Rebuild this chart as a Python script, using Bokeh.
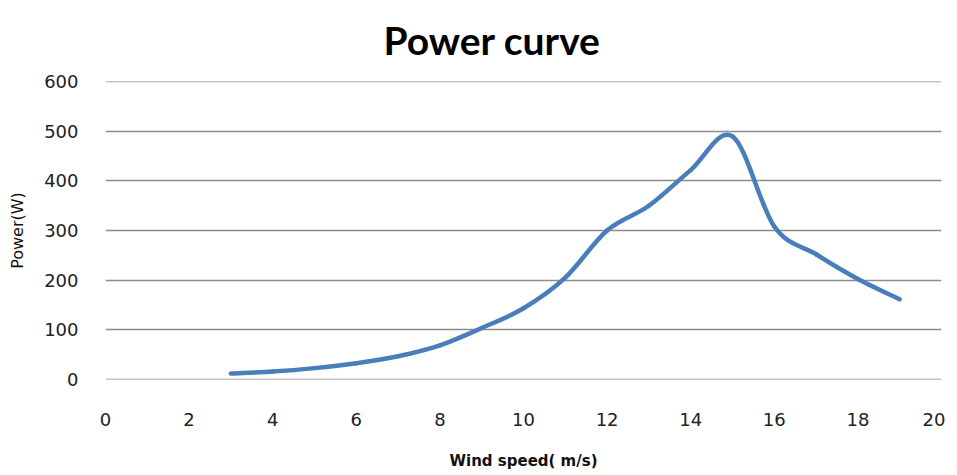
from bokeh.plotting import figure
from bokeh.models import Range1d, FixedTicker
from bokeh.embed import file_html
from bokeh.resources import INLINE

chart_title = "Power curve"
wind_speed = [3, 4, 5, 6, 7, 8, 9, 10, 11, 12, 13, 14, 15, 16, 17, 18, 19]
power_w = [11, 15, 22, 32, 46, 68, 103, 143, 205, 300, 350, 422, 490, 308, 252, 202, 161]
x_ticks = [0, 2, 4, 6, 8, 10, 12, 14, 16, 18, 20]
y_ticks = [0, 100, 200, 300, 400, 500, 600]

# smooth (Excel-like) Bezier segments derived from the data points
n = len(wind_speed)
x0, y0, x1, y1, cx0, cy0, cx1, cy1 = [], [], [], [], [], [], [], []
for i in range(n - 1):
    xa, ya = wind_speed[i], power_w[i]
    xb, yb = wind_speed[i + 1], power_w[i + 1]
    xp, yp = (wind_speed[i - 1], power_w[i - 1]) if i > 0 else (xa, ya)
    xn, yn = (wind_speed[i + 2], power_w[i + 2]) if i + 2 < n else (xb, yb)
    x0.append(xa); y0.append(ya); x1.append(xb); y1.append(yb)
    cx0.append(xa + (xb - xp) / 6.0); cy0.append(ya + (yb - yp) / 6.0)
    cx1.append(xb - (xn - xa) / 6.0); cy1.append(yb - (yn - ya) / 6.0)

p = figure(width=945, height=472, output_backend="svg", toolbar_location=None,
           x_range=Range1d(0, 20), y_range=Range1d(-1, 601),
           min_border_left=105, min_border_right=4, min_border_top=81, min_border_bottom=89)

p.title.text = chart_title
p.title.text_font = "Lato"
p.title.text_font_size = "39px"
p.title.text_font_style = "bold"
p.title.text_color = "#000000"
p.title.align = "left"
p.title.offset = 278
p.title.vertical_align = "top"
p.title.standoff = 33

p.outline_line_color = None
p.background_fill_color = "white"
p.border_fill_color = "white"

p.xgrid.visible = False
p.ygrid.grid_line_color = "#8c8c8c"
p.ygrid.grid_line_width = 1.5

for ax in (p.xaxis, p.yaxis):
    ax.axis_line_color = None
    ax.major_tick_line_color = None
    ax.minor_tick_line_color = None
    ax.major_label_text_font = "DejaVu Sans"
    ax.major_label_text_font_size = "18px"
    ax.major_label_text_color = "#222222"
    ax.axis_label_text_font = "DejaVu Sans"
    ax.axis_label_text_color = "#111111"
    ax.axis_label_text_font_style = "normal"

p.xaxis.ticker = FixedTicker(ticks=x_ticks)
p.yaxis.ticker = FixedTicker(ticks=y_ticks)
p.xaxis.major_label_standoff = 27
p.yaxis.major_label_standoff = 21

p.xaxis.axis_label = "Wind speed( m/s)"
p.xaxis.axis_label_text_font_size = "15px"
p.xaxis.axis_label_text_font_style = "bold"
p.xaxis.axis_label_standoff = 23
p.yaxis.axis_label = "Power(W)"
p.yaxis.axis_label_text_font_size = "16px"
p.yaxis.axis_label_standoff = 14

p.bezier(x0=x0, y0=y0, x1=x1, y1=y1, cx0=cx0, cy0=cy0, cx1=cx1, cy1=cy1,
         line_color="#4a7ebb", line_width=4.5, line_cap="round", line_join="round")

open("out.html", "w").write(file_html(p, INLINE))
